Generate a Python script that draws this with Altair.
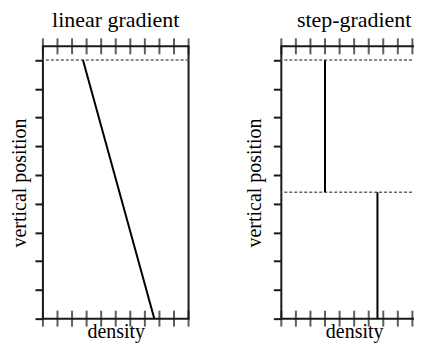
import altair as alt
import pandas as pd

# ---- data ----
x_ticks = [0, 1, 2, 3, 4, 5, 6, 7, 8, 9, 10]
y_ticks = [0, 1, 2, 3, 4, 5, 6, 7, 8, 9]

linear_density = [2.75, 7.65]
linear_position = [9, 0]

step_density = [3.0, 3.0, 6.6, 6.6]
step_position = [9, 4.4, 4.4, 0]
step_segment = ["upper", "upper", "lower", "lower"]

linear_dashes = [9]
step_dashes = [9, 4.4]

FONT = "Liberation Serif"
W, H = 146, 273
XDOM = [0, 10]
YDOM = [0, 9.48]
INK = "#1a1a1a"


def panel(title, line_df, dashes, title_pad, detail=None):
    xs = alt.Scale(domain=XDOM, nice=False, zero=False)
    ys = alt.Scale(domain=YDOM, nice=False, zero=False)
    xaxis = alt.Axis(title="density", orient="bottom", ticks=False,
                     labels=False, domain=False, grid=False,
                     titleFont=FONT, titleFontSize=20,
                     titleFontWeight="normal", titleColor="black",
                     titlePadding=3)
    yaxis = alt.Axis(title="vertical position", values=y_ticks,
                     ticks=True, tickSize=8, tickWidth=2,
                     tickColor=INK, labels=False, domain=False,
                     grid=False, titleFont=FONT, titleFontSize=20,
                     titleFontWeight="normal", titleColor="black",
                     titlePadding=title_pad)

    enc = dict(x=alt.X("density:Q", scale=xs, axis=xaxis),
               y=alt.Y("position:Q", scale=ys, axis=yaxis))
    if detail:
        enc["detail"] = detail
    line = alt.Chart(line_df).mark_line(color="black", strokeWidth=2).encode(**enc)

    dash = alt.Chart(pd.DataFrame({"position": dashes})).mark_rule(
        color="#666", strokeWidth=1.5, strokeDash=[3, 2]
    ).encode(y=alt.Y("position:Q", scale=ys, axis=yaxis))

    tdf = pd.DataFrame({"density": x_ticks})
    top = alt.Chart(tdf).mark_tick(orient="vertical", color=INK,
                                   size=16, thickness=2).encode(
        x=alt.X("density:Q", scale=xs, axis=xaxis), y=alt.value(0))
    bottom = alt.Chart(tdf).mark_tick(orient="vertical", color=INK,
                                      size=16, thickness=2).encode(
        x=alt.X("density:Q", scale=xs, axis=xaxis), y=alt.value(H))

    return alt.layer(dash, line, top, bottom).properties(
        width=W, height=H,
        title=alt.TitleParams(title, font=FONT, fontSize=22,
                              fontWeight="normal", color="black", offset=6),
    )


lin_df = pd.DataFrame({"density": linear_density, "position": linear_position})
step_df = pd.DataFrame({"density": step_density, "position": step_position,
                        "seg": step_segment})

left = panel("linear gradient", lin_df, linear_dashes, 4.5)
right = panel("step-gradient", step_df, step_dashes, 8, detail="seg:N")

chart = alt.hconcat(left, right, spacing=53).properties(
    padding={"left": 0, "top": 0, "right": -15, "bottom": 0}
).configure_view(stroke=INK, strokeWidth=2)

chart.save("out.html", embed_options={"renderer": "svg", "actions": False})
